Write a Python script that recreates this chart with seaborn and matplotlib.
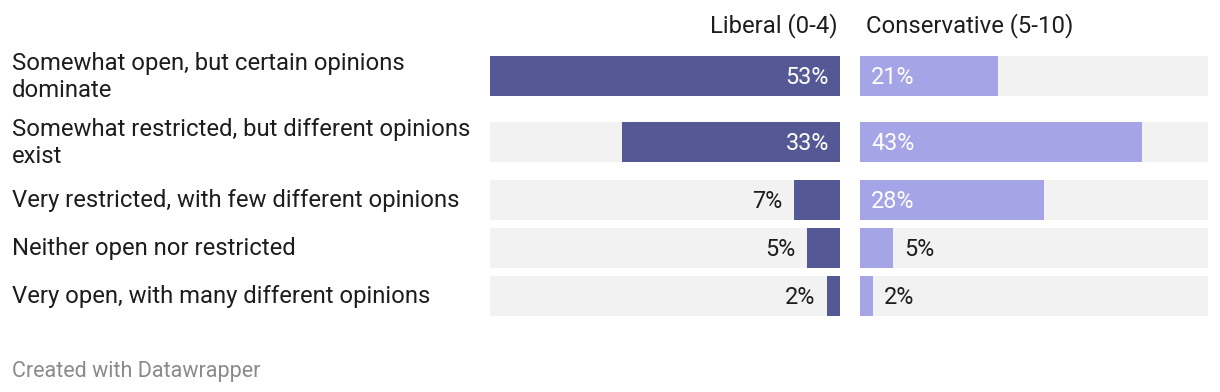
import matplotlib
matplotlib.use("Agg")
import matplotlib.pyplot as plt
import matplotlib.transforms as mtransforms
import seaborn as sns
import pandas as pd

# data
labels = [
    "Somewhat open, but certain opinions\ndominate",
    "Somewhat restricted, but different opinions\nexist",
    "Very restricted, with few different opinions",
    "Neither open nor restricted",
    "Very open, with many different opinions",
]
liberal = [53, 33, 7, 5, 2]
conservative = [21, 43, 28, 5, 2]
groups = ["Liberal (0-4)", "Conservative (5-10)"]

# layout (pixels from top of a 1220x392 canvas)
W, H = 1220, 392
row_y = [76, 142, 200, 248, 296]
top, bottom = 56, 316
xmax = 53

dark = "#545895"
light = "#a4a4e6"
track = "#f2f2f2"
ink = "#1d1d1d"

sns.set_theme(style="white")
plt.rcParams["font.family"] = ["Roboto", "DejaVu Sans"]

fig = plt.figure(figsize=(W / 100, H / 100), dpi=100)


def panel(x0, x1):
    return fig.add_axes([x0 / W, (H - bottom) / H, (x1 - x0) / W, (bottom - top) / H])


ax_l = panel(490, 840)
ax_r = panel(860, 1208)

df = pd.DataFrame({"label": labels, "row": row_y, "lib": liberal, "con": conservative,
                   "full": [xmax] * len(labels)})

for ax, col, color in [(ax_l, "lib", dark), (ax_r, "con", light)]:
    sns.barplot(data=df, x="full", y="row", orient="h", native_scale=True,
                color=track, width=40 / 48, saturation=1, ax=ax, errorbar=None,
                linewidth=0)
    sns.barplot(data=df, x=col, y="row", orient="h", native_scale=True,
                color=color, width=40 / 48, saturation=1, ax=ax, errorbar=None,
                linewidth=0)
    ax.set_ylim(bottom, top)
    ax.set_xlabel("")
    ax.set_ylabel("")
    ax.set_xticks([])
    ax.set_yticks([])
    sns.despine(ax=ax, left=True, bottom=True)

ax_l.set_xlim(xmax, 0)
ax_r.set_xlim(0, xmax)

fs = 17.2
vfs = 16.8
pad = 8  # points

for v, y in zip(liberal, row_y):
    if v >= 10:
        ax_l.annotate(f"{v}%", (0, y), xytext=(-pad, -1), textcoords="offset points",
                      ha="right", va="center", color="white", fontsize=vfs)
    else:
        ax_l.annotate(f"{v}%", (v, y), xytext=(-pad, -1), textcoords="offset points",
                      ha="right", va="center", color=ink, fontsize=vfs)

for v, y in zip(conservative, row_y):
    if v >= 10:
        ax_r.annotate(f"{v}%", (0, y), xytext=(pad, -1), textcoords="offset points",
                      ha="left", va="center", color="white", fontsize=vfs)
    else:
        ax_r.annotate(f"{v}%", (v, y), xytext=(pad, -1), textcoords="offset points",
                      ha="left", va="center", color=ink, fontsize=vfs)

# category labels on the far left
tr = mtransforms.blended_transform_factory(fig.transFigure, ax_l.transData)
for lab, y in zip(labels, row_y):
    ax_l.text(12 / W, y + 1, lab, transform=tr, ha="left", va="center",
              fontsize=fs, color=ink, linespacing=1.2, clip_on=False)

# column headers
fig.text(838 / W, 1 - 26 / H, groups[0], ha="right", va="center", fontsize=fs, color=ink)
fig.text(866 / W, 1 - 26 / H, groups[1], ha="left", va="center", fontsize=fs, color=ink)

fig.text(12 / W, 1 - 371 / H, "Created with Datawrapper", ha="left", va="center",
         fontsize=15.5, color="#8a8a8a")

fig.savefig("out.png", dpi=100, facecolor="white")
